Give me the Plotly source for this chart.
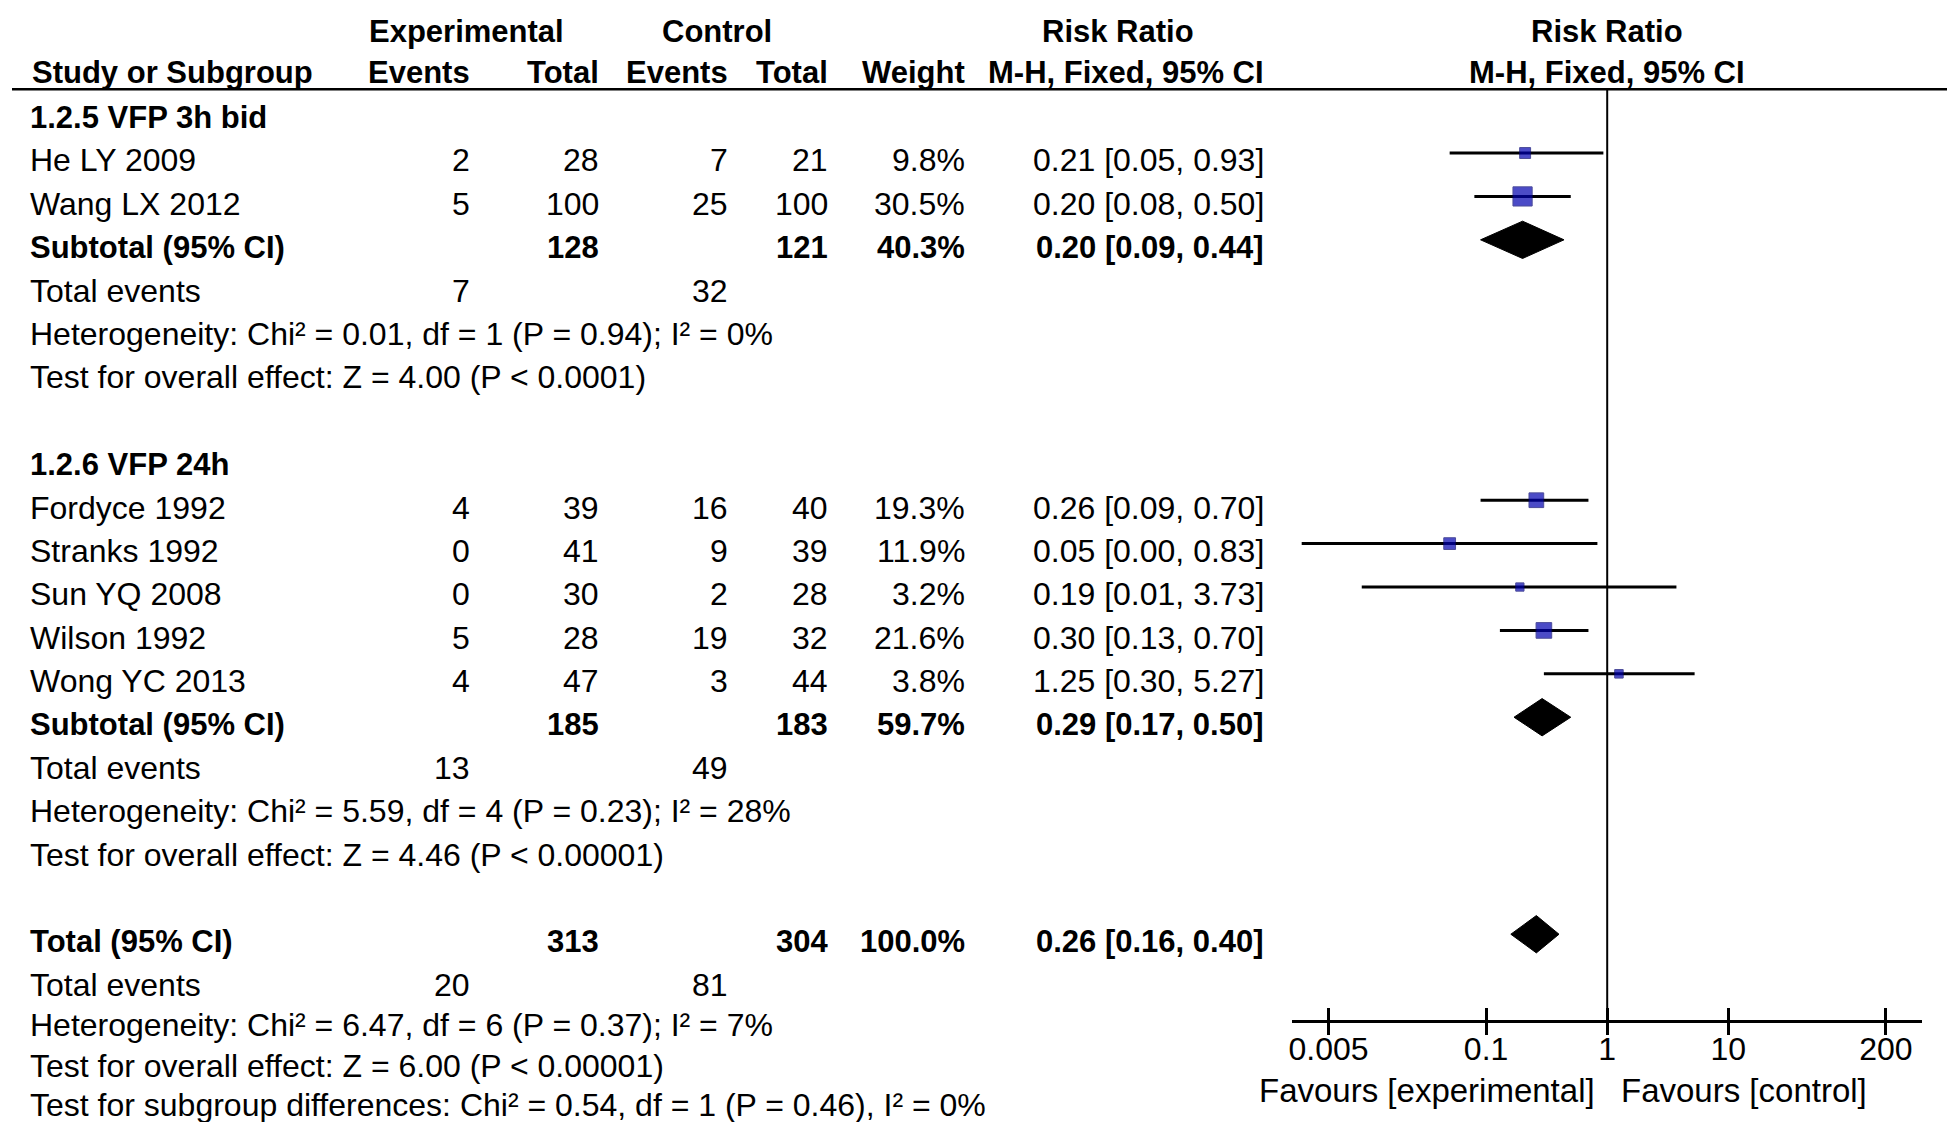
"""
Forest plot (RevMan style) — Risk Ratio, M-H fixed, VFP 3h bid vs VFP 24h.
"""
import numpy as np
import plotly.graph_objects as go

# la page HTML a une marge de 8 px : on réduit la figure et on décale tout
OFF = 8
FW, FH = 1955 - 2 * OFF, 1130 - 2 * OFF
FONT = "Liberation Sans, Arial, sans-serif"
FS = 32          # texte normal
FS_B = 31        # texte gras
BLUE = "#0000B0"

# ---------------------------------------------------------------------------
# Données
# ---------------------------------------------------------------------------
group_names = ["1.2.5 VFP 3h bid", "1.2.6 VFP 24h"]
group_sizes = [2, 5]

studies = ["He LY 2009", "Wang LX 2012",
           "Fordyce 1992", "Stranks 1992", "Sun YQ 2008", "Wilson 1992", "Wong YC 2013"]
exp_events = [2, 5, 4, 0, 0, 5, 4]
exp_total = [28, 100, 39, 41, 30, 28, 47]
ctl_events = [7, 25, 16, 9, 2, 19, 3]
ctl_total = [21, 100, 40, 39, 28, 32, 44]
weights = [9.8, 30.5, 19.3, 11.9, 3.2, 21.6, 3.8]
rr = [0.21, 0.20, 0.26, 0.05, 0.19, 0.30, 1.25]
rr_lo = [0.05, 0.08, 0.09, 0.003, 0.0094, 0.13, 0.30]
rr_hi = [0.93, 0.50, 0.70, 0.83, 3.73, 0.70, 5.27]

sub_exp_total = [128, 185]
sub_ctl_total = [121, 183]
sub_weight = [40.3, 59.7]
sub_rr = [0.20, 0.29]
sub_lo = [0.09, 0.17]
sub_hi = [0.44, 0.50]
sub_exp_events = [7, 13]
sub_ctl_events = [32, 49]
sub_het = ["Heterogeneity: Chi² = 0.01, df = 1 (P = 0.94); I² = 0%",
           "Heterogeneity: Chi² = 5.59, df = 4 (P = 0.23); I² = 28%"]
sub_test = ["Test for overall effect: Z = 4.00 (P < 0.0001)",
            "Test for overall effect: Z = 4.46 (P < 0.00001)"]

tot_exp_total, tot_ctl_total, tot_weight = 313, 304, 100.0
tot_rr, tot_lo, tot_hi = 0.26, 0.16, 0.40
tot_exp_events, tot_ctl_events = 20, 81
tot_het = "Heterogeneity: Chi² = 6.47, df = 6 (P = 0.37); I² = 7%"
tot_test = "Test for overall effect: Z = 6.00 (P < 0.00001)"
subgroup_diff = "Test for subgroup differences: Chi² = 0.54, df = 1 (P = 0.46), I² = 0%"

axis_ticks = [0.005, 0.1, 1, 10, 200]
axis_ticktext = ["0.005", "0.1", "1", "10", "200"]

# ---------------------------------------------------------------------------
# Géométrie (pixels de l'écran 1955x1130)
# ---------------------------------------------------------------------------
ROW0, ROW_H = 117, 43.4
AXIS_Y = 1020
HEAD_LINE_Y = 89.3
X_LABEL = 24
X_EXP_EV, X_EXP_TOT, X_CTL_EV, X_CTL_TOT, X_WEIGHT, X_CI = 469, 598, 727, 828, 965, 1265
FOREST_X0, FOREST_X1 = 1291, 1922
LOG_RANGE = [-2.6, 2.6]
MARK_DY = -0.17     # les carrés sont légèrement au-dessus du texte
DIAM_H = 0.43


def px(x):
    return (x - OFF) / FW


def py(y):
    return 1 - (y - OFF) / FH


def row_px(r):
    return ROW0 + ROW_H * r


ann = []


def txt(x, y, s, anchor="right", bold=False, size=None):
    if size is None:
        size = FS_B if bold else FS
    ann.append(dict(
        x=px(x), y=py(y), xref="paper", yref="paper",
        text=f"<b>{s}</b>" if bold else s,
        xanchor=anchor, yanchor="middle", showarrow=False,
        font=dict(family=FONT, size=size, color="black"),
    ))


def ci_text(m, lo, hi):
    return f"{m:.2f} [{lo:.2f}, {hi:.2f}]"


# ---- En-têtes ----
txt(364, 31.7, "Experimental", anchor="left", bold=True)
txt(714, 31.7, "Control", anchor="center", bold=True)
txt(1116, 31.7, "Risk Ratio", anchor="center", bold=True)
txt(1606, 31.7, "Risk Ratio", anchor="center", bold=True)
txt(26, 72.7, "Study or Subgroup", anchor="left", bold=True)
for xx, s in [(X_EXP_EV, "Events"), (X_EXP_TOT, "Total"), (X_CTL_EV, "Events"),
              (X_CTL_TOT, "Total"), (X_WEIGHT, "Weight"), (X_CI, "M-H, Fixed, 95% CI")]:
    txt(xx, 72.7, s, bold=True)
txt(1606, 72.7, "M-H, Fixed, 95% CI", anchor="center", bold=True)

# ---- Lignes du tableau + éléments du forest plot ----
line_x, line_y = [], []
mk_x, mk_y, mk_s = [], [], []
diamonds = []

r = 0
k = 0
for g, gname in enumerate(group_names):
    txt(X_LABEL, row_px(r), gname, anchor="left", bold=True)
    r += 1
    for _ in range(group_sizes[g]):
        y = row_px(r)
        txt(X_LABEL, y, studies[k], anchor="left")
        txt(X_EXP_EV, y, str(exp_events[k]))
        txt(X_EXP_TOT, y, str(exp_total[k]))
        txt(X_CTL_EV, y, str(ctl_events[k]))
        txt(X_CTL_TOT, y, str(ctl_total[k]))
        txt(X_WEIGHT, y, f"{weights[k]:.1f}%")
        txt(X_CI, y, ci_text(rr[k], rr_lo[k], rr_hi[k]))
        line_x += [rr_lo[k], rr_hi[k], None]
        line_y += [r + MARK_DY, r + MARK_DY, None]
        mk_x.append(rr[k])
        mk_y.append(r + MARK_DY)
        mk_s.append(7 + 0.4 * weights[k])
        k += 1
        r += 1
    y = row_px(r)
    txt(X_LABEL, y, "Subtotal (95% CI)", anchor="left", bold=True)
    txt(X_EXP_TOT, y, str(sub_exp_total[g]), bold=True)
    txt(X_CTL_TOT, y, str(sub_ctl_total[g]), bold=True)
    txt(X_WEIGHT, y, f"{sub_weight[g]:.1f}%", bold=True)
    txt(X_CI, y, ci_text(sub_rr[g], sub_lo[g], sub_hi[g]), bold=True)
    diamonds.append((sub_lo[g], sub_rr[g], sub_hi[g], r + MARK_DY))
    r += 1
    y = row_px(r)
    txt(X_LABEL, y, "Total events", anchor="left")
    txt(X_EXP_EV, y, str(sub_exp_events[g]))
    txt(X_CTL_EV, y, str(sub_ctl_events[g]))
    r += 1
    txt(X_LABEL, row_px(r), sub_het[g], anchor="left")
    r += 1
    txt(X_LABEL, row_px(r), sub_test[g], anchor="left")
    r += 2

y = row_px(r)
txt(X_LABEL, y, "Total (95% CI)", anchor="left", bold=True)
txt(X_EXP_TOT, y, str(tot_exp_total), bold=True)
txt(X_CTL_TOT, y, str(tot_ctl_total), bold=True)
txt(X_WEIGHT, y, f"{tot_weight:.1f}%", bold=True)
txt(X_CI, y, ci_text(tot_rr, tot_lo, tot_hi), bold=True)
diamonds.append((tot_lo, tot_rr, tot_hi, r + MARK_DY))
r += 1
y = row_px(r)
txt(X_LABEL, y, "Total events", anchor="left")
txt(X_EXP_EV, y, str(tot_exp_events))
txt(X_CTL_EV, y, str(tot_ctl_events))
r += 1
# les trois dernières lignes sont un peu resserrées pour tenir dans la page
txt(X_LABEL, row_px(r) - 3, tot_het, anchor="left")
r += 1
txt(X_LABEL, row_px(r) - 6, tot_test, anchor="left")
r += 1
txt(X_LABEL, row_px(r) - 10, subgroup_diff, anchor="left")

# ---- Favours ----
txt(1596, 1090, "Favours [experimental]", anchor="right", size=33)
txt(1618, 1090, "Favours [control]", anchor="left", size=33)

# ---------------------------------------------------------------------------
# Figure
# ---------------------------------------------------------------------------
y_top = (OFF - ROW0) / ROW_H
y_bot = (AXIS_Y - ROW0) / ROW_H
y_head = (HEAD_LINE_Y - ROW0) / ROW_H

fig = go.Figure()

# ligne verticale RR = 1
fig.add_trace(go.Scatter(
    x=[1, 1], y=[y_head, y_bot], mode="lines",
    line=dict(color="black", width=2), hoverinfo="skip",
))

# IC des études
fig.add_trace(go.Scatter(
    x=line_x, y=line_y, mode="lines",
    line=dict(color="black", width=3), hoverinfo="skip",
))

# carrés pondérés
fig.add_trace(go.Scatter(
    x=mk_x, y=mk_y, mode="markers",
    marker=dict(symbol="square", size=mk_s, color=BLUE,
                line=dict(width=1, color="#000070")),
    hoverinfo="skip",
))

# losanges (sous-totaux + total)
for lo, m, hi, yc in diamonds:
    fig.add_trace(go.Scatter(
        x=[lo, m, hi, m, lo], y=[yc, yc - DIAM_H, yc, yc + DIAM_H, yc],
        mode="lines", fill="toself", fillcolor="black",
        line=dict(color="black", width=1), hoverinfo="skip",
    ))

# trace invisible pour l'axe x2 (graduations vers le haut)
fig.add_trace(go.Scatter(
    x=[1], y=[0], xaxis="x2", yaxis="y", mode="markers",
    marker=dict(opacity=0), hoverinfo="skip",
))

dom = [px(FOREST_X0), px(FOREST_X1)]
fig.update_layout(
    width=FW, height=FH,
    margin=dict(l=0, r=0, t=0, b=0),
    paper_bgcolor="white", plot_bgcolor="white",
    showlegend=False,
    annotations=ann,
    xaxis=dict(
        type="log", range=LOG_RANGE, domain=dom, anchor="y",
        showgrid=False, zeroline=False,
        showline=True, linecolor="black", linewidth=2.6,
        ticks="outside", ticklen=12, tickwidth=2.6, tickcolor="black",
        tickvals=axis_ticks, ticktext=axis_ticktext,
        ticklabelstandoff=-13,
        tickfont=dict(family=FONT, size=32, color="black"),
    ),
    xaxis2=dict(
        type="log", range=LOG_RANGE, domain=dom, overlaying="x", anchor="y",
        side="bottom", showgrid=False, zeroline=False, showline=False,
        ticks="inside", ticklen=12, tickwidth=2.6, tickcolor="black",
        tickvals=axis_ticks, showticklabels=False,
    ),
    yaxis=dict(
        domain=[py(AXIS_Y), 1], range=[y_bot, y_top],
        visible=False, showgrid=False, zeroline=False,
    ),
    shapes=[dict(
        type="line", xref="paper", yref="paper",
        x0=0, x1=1, y0=py(HEAD_LINE_Y), y1=py(HEAD_LINE_Y),
        line=dict(color="black", width=2.6),
    )],
)

fig.write_html("out.html")
